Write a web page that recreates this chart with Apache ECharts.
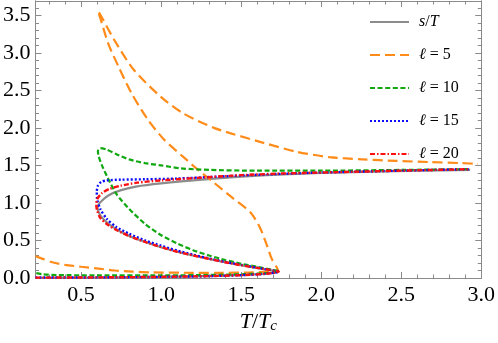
<!DOCTYPE html>
<html>
<head>
<meta charset="utf-8">
<script src="https://cdn.jsdelivr.net/npm/echarts@6/dist/echarts.min.js"></script>
<style>html,body{margin:0;padding:0;background:#fff}#c{width:498px;height:343px}</style>
</head>
<body>
<div id="c"></div>
<script>
// ---- data ----
const xMajor = [0.5, 1.0, 1.5, 2.0, 2.5, 3.0];
const yMajor = [0.0, 0.5, 1.0, 1.5, 2.0, 2.5, 3.0, 3.5];
const seriesNames = ['s/T', 'ℓ = 5', 'ℓ = 10', 'ℓ = 15', 'ℓ = 20'];

const sT = [[0.215,0.0],[0.4,0.002],[0.6,0.005],[0.8,0.01],[1.0,0.015],[1.2,0.022],[1.4,0.033],[1.55,0.045],[1.65,0.058],[1.72,0.075],
  [1.735,0.085],[1.70,0.097],[1.6,0.133],[1.5,0.17],[1.4,0.21],[1.3,0.255],[1.2,0.30],[1.1,0.35],[1.0,0.41],[0.9,0.48],[0.8,0.56],
  [0.72,0.65],[0.66,0.74],[0.625,0.82],[0.607,0.89],[0.603,0.95],[0.62,1.01],[0.67,1.10],[0.75,1.17],[0.85,1.22],[1.0,1.26],[1.2,1.30],
  [1.5,1.35],[1.8,1.385],[2.2,1.41],[2.6,1.43],[2.93,1.44]];

const l5 = [[0.215,0.29],[0.26,0.255],[0.32,0.21],[0.40,0.175],[0.5,0.15],[0.61,0.125],[0.71,0.10],[0.82,0.085],[0.94,0.075],[1.14,0.07],
  [1.35,0.068],[1.56,0.075],[1.68,0.085],[1.73,0.10],[1.725,0.13],[1.69,0.26],[1.66,0.44],[1.62,0.66],[1.56,0.87],[1.45,1.06],[1.33,1.27],
  [1.22,1.46],[1.14,1.61],[1.02,1.84],[0.92,2.10],[0.815,2.46],[0.735,2.81],[0.67,3.12],[0.62,3.46],[0.605,3.56],[0.63,3.47],[0.71,3.16],
  [0.83,2.77],[1.0,2.41],[1.14,2.19],[1.33,2.0],[1.43,1.93],[1.64,1.80],[1.85,1.68],[2.05,1.61],[2.26,1.58],[2.47,1.56],[2.67,1.545],
  [2.88,1.53],[2.98,1.52]];

const l10 = [[0.22,0.065],[0.26,0.05],[0.35,0.04],[0.6,0.035],[1.0,0.035],[1.3,0.04],[1.5,0.05],[1.65,0.065],[1.72,0.08],[1.735,0.09],
  [1.7,0.105],[1.6,0.15],[1.5,0.19],[1.4,0.24],[1.3,0.30],[1.2,0.37],[1.1,0.46],[1.0,0.57],[0.9,0.72],[0.8,0.92],[0.72,1.12],[0.67,1.32],
  [0.63,1.50],[0.61,1.62],[0.605,1.69],[0.62,1.73],[0.66,1.71],[0.72,1.65],[0.8,1.58],[0.9,1.53],[1.0,1.50],[1.125,1.46],[1.3,1.44],
  [1.6,1.43],[2.0,1.43],[2.5,1.44],[2.93,1.45]];

const l15 = [[0.215,0.006],[0.6,0.008],[1.0,0.015],[1.3,0.025],[1.5,0.038],[1.65,0.055],[1.72,0.075],[1.735,0.088],[1.7,0.10],[1.6,0.137],
  [1.5,0.175],[1.4,0.215],[1.3,0.26],[1.2,0.31],[1.1,0.365],[1.0,0.43],[0.9,0.50],[0.8,0.59],[0.72,0.68],[0.66,0.79],[0.62,0.92],
  [0.60,1.05],[0.598,1.15],[0.605,1.23],[0.625,1.28],[0.66,1.30],[0.75,1.31],[0.9,1.315],[1.1,1.325],[1.3,1.345],[1.6,1.375],[2.0,1.405],
  [2.5,1.43],[2.93,1.45]];

const l20 = [[0.215,0.005],[0.6,0.008],[1.0,0.015],[1.3,0.025],[1.5,0.038],[1.65,0.055],[1.72,0.075],[1.735,0.088],[1.7,0.099],[1.6,0.135],
  [1.5,0.17],[1.4,0.21],[1.3,0.255],[1.2,0.30],[1.1,0.35],[1.0,0.41],[0.9,0.48],[0.8,0.56],[0.72,0.64],[0.66,0.72],[0.62,0.80],
  [0.60,0.90],[0.595,0.97],[0.60,1.05],[0.63,1.13],[0.68,1.19],[0.75,1.23],[0.85,1.27],[1.0,1.30],[1.2,1.33],[1.5,1.37],[1.8,1.395],
  [2.2,1.415],[2.6,1.435],[2.93,1.45]];

// ---- helpers ----
const X_MIN = 0.215, X_MAX = 3.0, Y_MIN = 0, Y_MAX = 3.69;
function minorList(lo, hi, step, majors) {
  const out = [];
  for (let k = Math.ceil(lo / step - 1e-9); k * step <= hi + 1e-9; k++) {
    const v = +(k * step).toFixed(4);
    if (!majors.some(m => Math.abs(m - v) < 1e-6)) out.push(v);
  }
  return out;
}
const xMinor = minorList(X_MIN, X_MAX, 0.1, xMajor);
const yMinor = minorList(Y_MIN, Y_MAX, 0.1, yMajor);
const frame = '#8a8a8a';
const fontFam = '"Liberation Serif", "DejaVu Serif", serif';

function xAx(pos, ticks, len, labels, extra) {
  return Object.assign({
    type: 'value', position: pos, min: X_MIN, max: X_MAX,
    axisLine: { show: true, onZero: false, lineStyle: { color: frame, width: 1 } },
    axisTick: { show: true, inside: true, length: len, customValues: ticks, lineStyle: { color: frame } },
    axisLabel: labels ? { show: true, customValues: xMajor, margin: 6, color: '#000', fontSize: 22, fontFamily: fontFam,
      formatter: v => v.toFixed(1) } : { show: false },
    splitLine: { show: false }
  }, extra || {});
}
function yAx(pos, ticks, len, labels) {
  return {
    type: 'value', position: pos, min: Y_MIN, max: Y_MAX,
    axisLine: { show: true, onZero: false, lineStyle: { color: frame, width: 1 } },
    axisTick: { show: true, inside: true, length: len, customValues: ticks, lineStyle: { color: frame } },
    axisLabel: labels ? { show: true, customValues: yMajor, margin: 5, color: '#000', fontSize: 22, fontFamily: fontFam,
      formatter: v => v.toFixed(1) } : { show: false },
    splitLine: { show: false }
  };
}

const chart = echarts.init(document.getElementById('c'), null, { renderer: 'canvas' });
const lineS = (name, data, color, type, width, z) => ({
  name, type: 'line', data, xAxisIndex: 0, yAxisIndex: 0, symbol: 'none', smooth: 0.25,
  lineStyle: { color, type, width, cap: 'butt' }, itemStyle: { color }, z, animation: false
});

chart.setOption({
  animation: false,
  grid: { left: 33, right: 16, top: 1, bottom: 65, containLabel: false },
  xAxis: [
    xAx('bottom', xMajor, 6, true, {
      name: '{it|T}/{it|T}{sub|c}', nameLocation: 'middle', nameGap: 32,
      nameTextStyle: { color: '#000', fontSize: 22, fontFamily: fontFam,
        rich: { it: { fontStyle: 'italic', fontSize: 22, fontFamily: fontFam },
                sub: { fontStyle: 'italic', fontSize: 15, fontFamily: fontFam, verticalAlign: 'bottom', padding: [9,0,0,0] } } }
    }),
    xAx('bottom', xMinor, 3.5, false),
    xAx('top', xMajor, 6, false),
    xAx('top', xMinor, 3.5, false)
  ],
  yAxis: [
    yAx('left', yMajor, 6, true),
    yAx('left', yMinor, 3.5, false),
    yAx('right', yMajor, 6, false),
    yAx('right', yMinor, 3.5, false)
  ],
  legend: {
    orient: 'vertical', left: 364, top: 9, itemWidth: 39, itemHeight: 14, itemGap: 17,
    data: seriesNames,
    itemStyle: { opacity: 0 },
    textStyle: { fontSize: 16, fontFamily: fontFam, color: '#000', padding: [0,0,0,5],
      rich: { it: { fontStyle: 'italic', fontSize: 16, fontFamily: fontFam } } },
    formatter: function (name) {
      if (name === 's/T') return '{it|s}/{it|T}';
      const n = name.split('=')[1].trim();
      return '{it|ℓ} = ' + n;
    }
  },
  series: [
    lineS(seriesNames[0], sT, '#8c8c8c', 'solid', 2.2, 2),
    lineS(seriesNames[1], l5, '#ff8c1a', [10, 5], 2.2, 3),
    lineS(seriesNames[2], l10, '#10a810', [5, 2.6], 2.2, 4),
    lineS(seriesNames[3], l15, '#0a0aff', [2, 2], 2.4, 5),
    lineS(seriesNames[4], l20, '#ff1010', [5, 2, 1.5, 2], 2.4, 6)
  ]
});
</script>
</body>
</html>
